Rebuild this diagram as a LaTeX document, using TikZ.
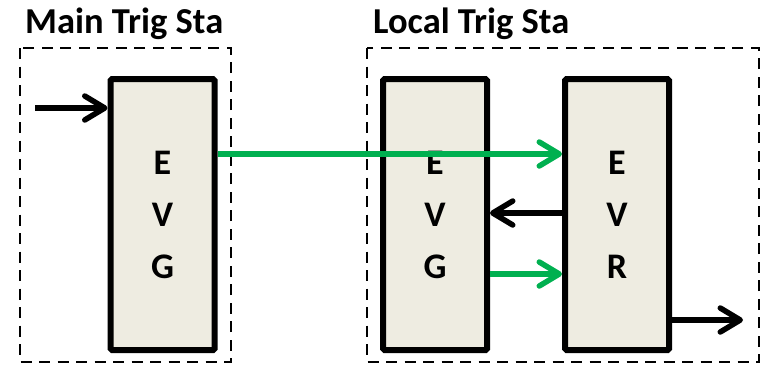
\documentclass[tikz,border=0pt]{standalone}
\usepackage{fontspec}
\setmainfont{Carlito}
\usetikzlibrary{arrows.meta}
\definecolor{boxfill}{HTML}{EEECE1}
\definecolor{sigGreen}{HTML}{00B050}
\tikzset{
  unit/.style={draw=black, line width=6pt, fill=boxfill, rounded corners=1.5pt,
    minimum width=104pt, minimum height=271pt, align=center,
    font=\bfseries\fontsize{36}{52}\selectfont, inner sep=0pt},
  frame/.style={draw=black, line width=2.7pt, dash pattern=on 11pt off 7.5pt},
  title/.style={font=\bfseries\fontsize{36.5}{40}\selectfont, anchor=base west, inner sep=0pt},
  sig/.style={line width=5.5pt, -{Straight Barb[length=20pt, width=24pt, line cap=round, line join=round]}},
  trig/.style={sig, draw=sigGreen},
  ctl/.style={sig, draw=black}
}
\begin{document}
\begin{tikzpicture}[x=1pt, y=-1pt]
  \useasboundingbox (0,0) rectangle (760,365);
  % station outlines
  \draw[frame] (20,48) rectangle (231,362);
  \draw[frame] (367,48) rectangle (759,362);
  \node[title] (maintitle) at (25,33) {Main Trig Sta};
  \node[title] (localtitle) at (373,33) {Local Trig Sta};
  % event generators and receiver
  \node[unit] (mainevg) at (162.5,214.5) {E\\V\\G};
  \node[unit] (localevg) at (435,214.5) {E\\V\\G};
  \node[unit] (evr) at (617,214.5) {E\\V\\R};
  % signal paths
  \coordinate (in) at (35,108);
  \coordinate (out) at (743,320);
  \draw[ctl] (in) -- ([yshift=106.5pt]mainevg.west);
  \draw[trig] ([yshift=60.5pt]mainevg.east) -- ([yshift=60.5pt]evr.west);
  \draw[ctl] ([yshift=1.5pt]evr.west) -- ([yshift=1.5pt]localevg.east);
  \draw[trig] ([yshift=-59.5pt]localevg.east) -- ([yshift=-59.5pt]evr.west);
  \draw[ctl] ([yshift=-105.5pt]evr.east) -- (out);
\end{tikzpicture}
\end{document}
